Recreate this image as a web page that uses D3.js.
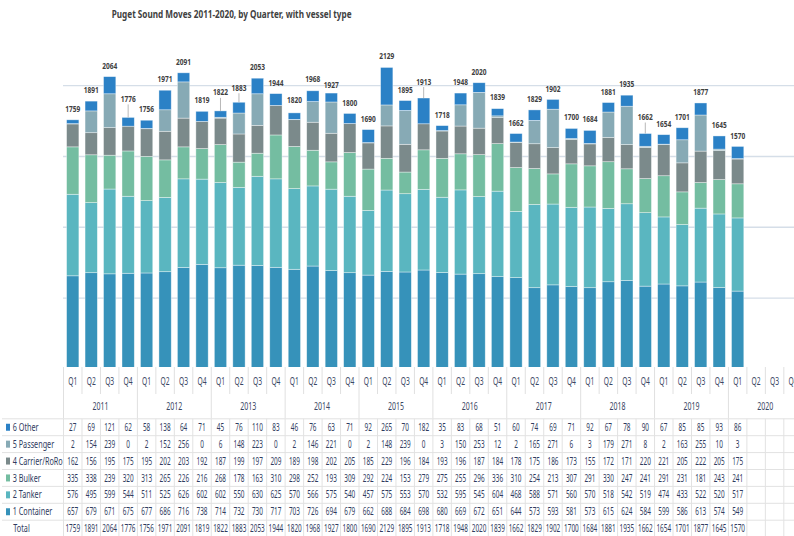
<!DOCTYPE html>
<html><head><meta charset="utf-8">
<script src="https://cdn.jsdelivr.net/npm/d3@7"></script>
<style>html,body{margin:0;padding:0;background:#fff;} svg{display:block;}</style>
</head><body><svg id="c" width="794" height="536"></svg>
<script>
// ---------------- DATA ----------------
const chartTitle = "Puget Sound Moves 2011-2020, by Quarter, with vessel type";
const years = ["2011","2012","2013","2014","2015","2016","2017","2018","2019","2020"];
const quarterNames = ["Q1","Q2","Q3","Q4"];
const seriesNames = ["6 Other","5 Passenger","4 Carrier/RoRo","3 Bulker","2 Tanker","1 Container"];
const other     = [27,69,121,62, 58,138,64,71, 45,76,110,83, 46,76,63,71, 92,265,70,182, 35,83,68,51, 60,74,69,71, 92,67,78,90, 67,85,85,93, 86];
const passenger = [2,154,239,0, 2,152,256,0, 6,148,223,0, 2,146,221,0, 2,148,239,0, 3,150,253,12, 2,165,271,6, 3,179,271,8, 2,163,255,10, 3];
const carrier   = [162,156,195,175, 195,202,203,192, 187,199,197,209, 189,198,202,205, 185,229,196,184, 193,196,187,184, 178,175,186,173, 155,172,171,220, 221,205,222,205, 175];
const bulker    = [335,338,239,320, 313,265,226,216, 268,178,163,310, 298,252,193,309, 292,224,153,279, 275,255,296,336, 310,254,213,307, 291,330,247,241, 291,231,181,243, 241];
const tanker    = [576,495,599,544, 511,525,626,602, 602,550,630,625, 570,566,575,540, 457,575,553,570, 532,595,545,604, 468,588,571,560, 570,518,542,519, 474,433,522,520, 517];
const container = [657,679,671,675, 677,686,716,738, 714,732,730,717, 703,726,694,679, 662,688,684,698, 680,669,672,651, 644,573,593,581, 573,615,624,584, 599,586,613,574, 549];
const totals    = [1759,1891,2064,1776, 1756,1971,2091,1819, 1822,1883,2053,1944, 1820,1968,1927,1800, 1690,2129,1895,1913, 1718,1948,2020,1839, 1662,1829,1902,1700, 1684,1881,1935,1662, 1654,1701,1877,1645, 1570];
const gridTicks = [500,1000,1500,2000];

// ---------------- STYLE / LAYOUT ----------------
const colors = {
  "6 Other":"#2B81C6", "5 Passenger":"#87AAB5", "4 Carrier/RoRo":"#7B8A8B",
  "3 Bulker":"#74BDA1", "2 Tanker":"#5AB6C0", "1 Container":"#3692BA"
};
const seriesValues = {
  "6 Other":other, "5 Passenger":passenger, "4 Carrier/RoRo":carrier,
  "3 Bulker":bulker, "2 Tanker":tanker, "1 Container":container
};
// manual label nudges (px upward) for labels that were moved in the original
const labelLift = {3:7.5, 8:7.5, 9:3.5, 19:5.5, 31:5.5};

const FONT = "'Noto Sans', 'Open Sans', sans-serif";
const svg = d3.select("#c");
const nCols = years.length * 4;
const left = 63.5, step = 18.47;
const xCol = d3.scaleBand().domain(d3.range(nCols)).range([left, left + nCols*step]);
const xBar = d3.scaleBand().domain(d3.range(nCols)).range([left, left + nCols*step])
  .paddingInner(0.334).paddingOuter(0.167);
const y = d3.scaleLinear().domain([0, 2000]).range([368.8, 85.7]);
const cx = i => xCol(i) + xCol.bandwidth()/2;

// text drawn condensed via a horizontal scale transform
function txt(parent, x, yy, s, o) {
  const t = parent.append("text").attr("x", 0).attr("y", 0).text(s)
    .attr("font-family", FONT).attr("font-size", o.size || 10)
    .attr("font-weight", o.weight || 400).attr("fill", o.fill || "#333")
    .attr("text-anchor", o.anchor || "middle");
  const nat = t.node().getComputedTextLength();
  const k = o.w != null ? o.w / nat : (o.k || 1);
  t.attr("transform", `translate(${x},${yy}) scale(${k},1)`);
  return t;
}

// title
txt(svg, 111.7, 18.3, chartTitle, {size: 11, weight: 700, fill: "#404040", anchor: "start", w: 240});

// gridlines
svg.append("g").selectAll("line").data(gridTicks).join("line")
  .attr("x1", 63).attr("x2", 794)
  .attr("y1", d => y(d)).attr("y2", d => y(d))
  .attr("stroke", "#D5DEE8").attr("stroke-width", 1.3);

// bars
svg.append("defs").append("clipPath").attr("id", "plotclip")
  .append("rect").attr("x", 0).attr("y", 0).attr("width", 794).attr("height", 367);
const rows = totals.map((t, i) => {
  const r = {i};
  seriesNames.forEach(s => r[s] = seriesValues[s][i]);
  return r;
});
const stackKeys = seriesNames.slice().reverse(); // container at bottom
const stacked = d3.stack().keys(stackKeys)(rows);
svg.append("g").attr("clip-path", "url(#plotclip)")
  .selectAll("g").data(stacked).join("g").attr("fill", d => colors[d.key])
  .selectAll("rect").data(d => d).join("rect")
  .attr("x", d => xBar(d.data.i)).attr("width", xBar.bandwidth())
  .attr("y", d => y(d[1])).attr("height", d => y(d[0]) - y(d[1]))
  .attr("stroke", "rgba(255,255,255,0.55)").attr("stroke-width", 0.7);

// total labels
const lg = svg.append("g");
totals.forEach((t, i) => {
  const top = y(t);
  const lift = labelLift[i] || 0;
  const base = top - 8 - lift;
  if (lift) {
    lg.append("line").attr("x1", cx(i)).attr("x2", cx(i))
      .attr("y1", top).attr("y2", base + 2.5)
      .attr("stroke", "#A6A6A6").attr("stroke-width", 0.8);
  }
  txt(lg, cx(i), base, String(t), {size: 9, weight: 700, fill: "#404040", k: 0.73});
});

// x axis: quarter & year rows
const ax = svg.append("g");
for (let i = 0; i < nCols; i++) {
  txt(ax, cx(i), 384.7, quarterNames[i % 4], {size: 10, fill: "#3A4663", k: 0.67});
}
for (let i = 0; i <= nCols; i++) {
  const xx = left + i*step;
  ax.append("line").attr("x1", xx).attr("x2", xx)
    .attr("y1", 367).attr("y2", i % 4 === 0 ? 418.5 : 394)
    .attr("stroke", "#E0E0E0").attr("stroke-width", 1);
}
years.forEach((yr, k) => {
  txt(ax, left + (4*k + 2)*step, 409.5, yr, {size: 10, fill: "#3A4663", k: 0.7});
});

// data table
const tb = svg.append("g");
const tTop = 418.8, rowH = 16.9;
const tableRows = seriesNames.map(s => ({label: s, vals: seriesValues[s], color: colors[s]}))
  .concat([{label: "Total", vals: totals, color: null}]);
for (let r = 0; r <= tableRows.length; r++) {
  tb.append("line").attr("x1", 2).attr("x2", 794)
    .attr("y1", tTop + r*rowH).attr("y2", tTop + r*rowH)
    .attr("stroke", "#E2E2E2").attr("stroke-width", 1);
}
for (let i = 0; i <= nCols; i++) {
  const xx = left + i*step;
  tb.append("line").attr("x1", xx).attr("x2", xx)
    .attr("y1", tTop).attr("y2", 536)
    .attr("stroke", "#E2E2E2").attr("stroke-width", 1);
}
tableRows.forEach((row, r) => {
  const mid = tTop + r*rowH + rowH/2;
  if (row.color) {
    tb.append("rect").attr("x", 6).attr("y", mid - 3.5).attr("width", 4).attr("height", 7)
      .attr("fill", row.color);
  }
  txt(tb, row.color ? 12.7 : 13.3, mid + 3.6, row.label,
      {size: 10.5, fill: "#2F3B5E", anchor: "start", k: 0.69});
  row.vals.forEach((v, i) => {
    txt(tb, cx(i), mid + 3.6, String(v), {size: 10.5, fill: "#2F3B5E", k: 0.61});
  });
});
</script></body></html>
